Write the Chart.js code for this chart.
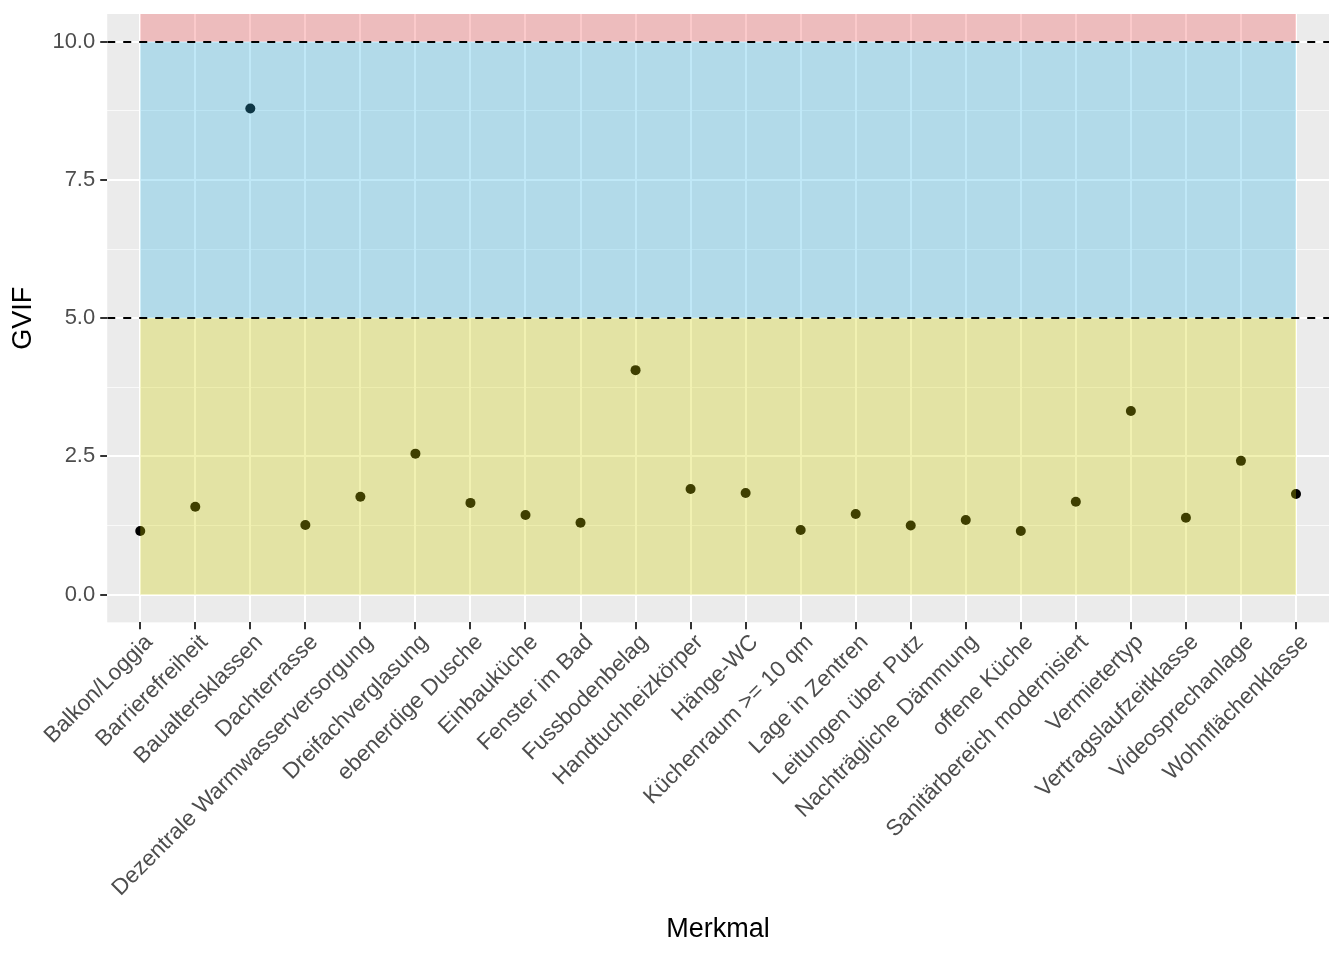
<!DOCTYPE html>
<html>
<head>
<meta charset="utf-8">
<script src="https://cdn.jsdelivr.net/npm/chart.js@4/dist/chart.umd.min.js"></script>
<style>
  html, body { margin: 0; padding: 0; background: #fff; }
  #wrap { width: 1344px; height: 960px; }
</style>
</head>
<body>
<div id="wrap"><canvas id="gvifChart" width="1344" height="960"></canvas></div>
<script>
// categories on the x axis
const categories = [
  'Balkon/Loggia', 'Barrierefreiheit', 'Baualtersklassen', 'Dachterrasse',
  'Dezentrale Warmwasserversorgung', 'Dreifachverglasung', 'ebenerdige Dusche',
  'Einbauküche', 'Fenster im Bad', 'Fussbodenbelag', 'Handtuchheizkörper',
  'Hänge-WC', 'Küchenraum >= 10 qm', 'Lage in Zentren', 'Leitungen über Putz',
  'Nachträgliche Dämmung', 'offene Küche', 'Sanitärbereich modernisiert',
  'Vermietertyp', 'Vertragslaufzeitklasse', 'Videosprechanlage', 'Wohnflächenklasse'
];

// GVIF per Merkmal
const gvifValues = [
  1.15, 1.59, 8.79, 1.26, 1.77, 2.55, 1.66, 1.44, 1.30, 4.06, 1.91,
  1.84, 1.17, 1.46, 1.25, 1.35, 1.15, 1.68, 3.32, 1.39, 2.42, 1.82
];

const yTicks = [0, 2.5, 5, 7.5, 10];
const yMinorTicks = [1.25, 3.75, 6.25, 8.75];
const thresholds = [5, 10];

// bands: [from, to, colour]; to = null means up to the panel edge
const bands = [
  [0, 5, 'rgba(208, 208, 0, 0.3)'],
  [5, 10, 'rgba(45, 178, 228, 0.3)'],
  [10, null, 'rgba(242, 78, 82, 0.3)']
];

const panelPlugin = {
  id: 'panel',
  beforeDraw(chart) {
    const { ctx, chartArea: a } = chart;
    ctx.save();
    ctx.fillStyle = '#EBEBEB';
    ctx.fillRect(a.left, a.top, a.right - a.left, a.bottom - a.top);
    ctx.restore();
  },
  afterDatasetsDraw(chart) {
    const { ctx, chartArea: a, scales: { x, y } } = chart;
    ctx.save();
    ctx.beginPath();
    ctx.rect(a.left, a.top, a.right - a.left, a.bottom - a.top);
    ctx.clip();
    const x0 = x.getPixelForValue(0);
    const x1 = x.getPixelForValue(categories.length - 1);
    bands.forEach(([from, to, col]) => {
      const yb = y.getPixelForValue(from);
      const yt = to === null ? a.top : y.getPixelForValue(to);
      ctx.fillStyle = col;
      ctx.fillRect(x0, yt, x1 - x0, yb - yt);
    });
    ctx.strokeStyle = '#000';
    ctx.lineWidth = 2;
    ctx.setLineDash([8, 8]);
    thresholds.forEach(t => {
      const py = Math.round(y.getPixelForValue(t));
      ctx.beginPath();
      ctx.moveTo(a.left, py);
      ctx.lineTo(a.right, py);
      ctx.stroke();
    });
    ctx.restore();
  }
};

const isMinor = v => yMinorTicks.includes(v);

new Chart(document.getElementById('gvifChart'), {
  type: 'scatter',
  data: {
    datasets: [{
      data: gvifValues.map((v, i) => ({ x: i, y: v })),
      backgroundColor: '#000',
      borderWidth: 0,
      pointRadius: 5,
      pointHoverRadius: 5
    }]
  },
  options: {
    responsive: false,
    animation: false,
    devicePixelRatio: 1,
    layout: { padding: { top: 14, right: 15, bottom: 14, left: 7 } },
    plugins: { legend: { display: false }, tooltip: { enabled: false } },
    scales: {
      x: {
        type: 'linear',
        min: -0.6,
        max: categories.length - 1 + 0.6,
        afterBuildTicks: axis => { axis.ticks = categories.map((c, i) => ({ value: i })); },
        ticks: {
          callback: v => categories[v],
          color: '#4D4D4D',
          font: { family: 'Liberation Sans', size: 22.5 },
          minRotation: 45,
          maxRotation: 45,
          autoSkip: false,
          padding: 0,
          labelOffset: 9
        },
        grid: { color: '#FFFFFF', lineWidth: 2, tickColor: '#333333', tickLength: 7, tickWidth: 2 },
        border: { display: false },
        title: {
          display: true,
          text: 'Merkmal',
          color: '#000',
          font: { family: 'Liberation Sans', size: 27 },
          padding: { top: 12, bottom: 0 }
        }
      },
      y: {
        min: -0.5,
        max: 10.5,
        afterBuildTicks: axis => {
          axis.ticks = yTicks.concat(yMinorTicks).sort((a, b) => a - b).map(v => ({ value: v }));
        },
        afterFit: axis => { axis.paddingTop = 0; axis.paddingBottom = 0; },
        ticks: {
          callback: v => isMinor(v) ? '' : v.toFixed(1),
          color: '#4D4D4D',
          font: { family: 'Liberation Sans', size: 22 },
          padding: 5
        },
        grid: {
          color: c => isMinor(c.tick.value) ? 'rgba(255,255,255,0.7)' : '#FFFFFF',
          lineWidth: c => isMinor(c.tick.value) ? 1 : 2,
          tickColor: c => isMinor(c.tick.value) ? 'rgba(0,0,0,0)' : '#333333',
          tickLength: 7,
          tickWidth: 2
        },
        border: { display: false },
        title: {
          display: true,
          text: 'GVIF',
          color: '#000',
          font: { family: 'Liberation Sans', size: 27 },
          padding: { top: 0, bottom: 8 }
        }
      }
    }
  },
  plugins: [panelPlugin]
});
</script>
</body>
</html>
